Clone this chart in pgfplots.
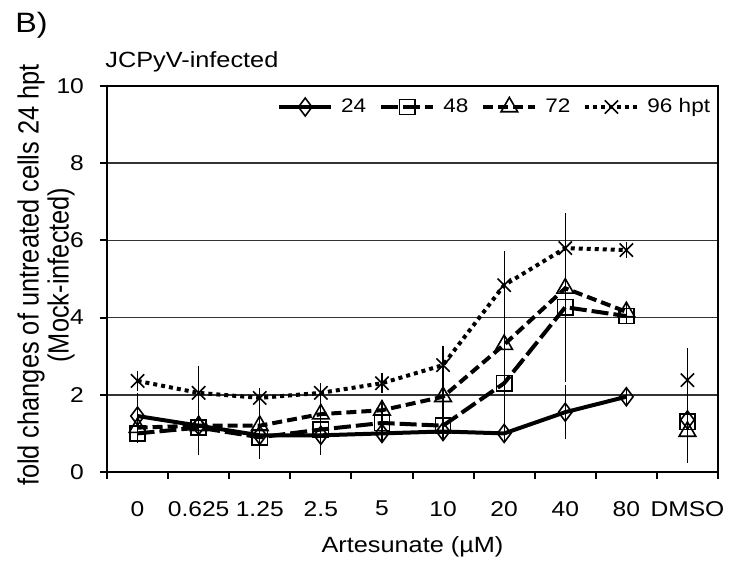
\documentclass[border=0pt]{standalone}
\usepackage{fontspec}
\setmainfont{Liberation Sans}[FakeStretch=1.15]
\usepackage{pgfplots}
\pgfplotsset{compat=1.18}
\pgfplotsset{myerr/.style={/pgfplots/error bars/y dir=both, /pgfplots/error bars/y explicit,
  /pgfplots/error bars/error bar style={line width=0.6pt, solid},
  /pgfplots/error bars/error mark options={line width=0.6pt, mark size=3pt, solid}}}
\begin{document}
\begin{tikzpicture}
\path[use as bounding box] (-53.5pt,-47.5pt) rectangle (312pt,236pt);
\begin{axis}[
  at={(0,0)}, anchor=south west,
  width=305.5pt, height=193pt, scale only axis,
  xmin=-0.5, xmax=9.5, ymin=0, ymax=10,
  xtick={-0.5,0.5,...,9.5}, xticklabels={},
  extra x ticks={0,1,2,3,4,5,6,7,8,9},
  extra x tick labels={0,0.625,1.25,2.5,5,10,20,40,80,DMSO},
  extra x tick style={major tick length=0pt, grid=none, tick label style={yshift=-11pt}},
  ytick={0,2,...,10},
  yticklabel style={xshift=-4.5pt},
  ymajorgrids,
  grid style={line width=0.8pt, black!80},
  tick align=outside, tick pos=left,
  major tick length=3.5pt,
  tick style={line width=1pt, black},
  axis line style={line width=1.2pt},
  tick label style={font=\fontsize{10.7}{12}\selectfont},
  /pgf/number format/assume math mode=true,
  legend columns=4,
  legend style={draw=none, fill=none, at={(axis description cs:0.991,0.9456)}, anchor=east,
    inner sep=0pt, font=\fontsize{9.8}{12}\selectfont,
    /tikz/every odd column/.append style={column sep=3pt},
    /tikz/every even column/.append style={column sep=5.5pt},
    nodes={inner sep=1pt}},
  legend image code/.code={\draw[mark repeat=2,mark phase=2] plot coordinates {(0pt,0pt) (13pt,0pt) (26pt,0pt)};},
  every axis plot/.append style={black, line width=2pt},
]
% 24 hpt
\addplot[myerr, mark=diamond, mark size=4.5pt, mark options={solid, line width=0.8pt}, solid]
 coordinates {(0,1.45) +- (0,0.45) (1,1.2) +- (0,0.1) (2,0.95) +- (0,0.45) (3,0.95) +- (0,0.15)
 (4,1.0) +- (0,0.1) (5,1.05) +- (0,0.1) (6,1.0) +- (0,0.1) (7,1.55) +- (0,0.55) (8,1.95) +- (0,0.05)};
\addlegendentry{24}
\addplot[myerr, forget plot, only marks, mark=diamond, mark size=4.5pt, mark options={solid, line width=0.8pt}]
 coordinates {(9,1.35) +- (0,0.57)};
% 48 hpt
\addplot[myerr, mark=square, mark size=3.8pt, mark options={solid, line width=0.8pt}, dash pattern=on 8.5pt off 2.5pt]
 coordinates {(0,1.0) +- (0,0.1) (1,1.15) +- (0,0.56) (2,0.9) +- (0,0.1) (3,1.1) +- (0,0.5)
 (4,1.27) +- (0,0.15) (5,1.2) +- (0,0.1) (6,2.3) +- (0,1.3) (7,4.27) +- (0,1.77) (8,4.04) +- (0,0.05)};
\addlegendentry{48}
\addplot[myerr, forget plot, only marks, mark=square, mark size=3.8pt, mark options={solid, line width=0.8pt}]
 coordinates {(9,1.3) +- (0,0.22)};
% 72 hpt
\addplot[myerr, mark=triangle, mark size=4.8pt, mark options={solid, line width=0.8pt}, dash pattern=on 5pt off 2.5pt]
 coordinates {(0,1.15) +- (0,0.1) (1,1.2) +- (0,0.2) (2,1.2) +- (0,0.3) (3,1.5) +- (0,0.15)
 (4,1.6) +- (0,0.1) (5,1.95) +- (0,0.35) (6,3.3) +- (0,0.5) (7,4.76) +- (0,0.15) (8,4.15) +- (0,0.05)};
\addlegendentry{72}
\addplot[myerr, forget plot, only marks, mark=triangle, mark size=4.8pt, mark options={solid, line width=0.8pt}]
 coordinates {(9,1.05) +- (0,0.66)};
% 96 hpt
\addplot[myerr, mark=x, mark size=4.7pt, mark options={solid, line width=0.8pt}, dash pattern=on 2pt off 2pt]
 coordinates {(0,2.36) +- (0,0.1) (1,2.05) +- (0,0.55) (2,1.92) +- (0,0.1) (3,2.05) +- (0,0.1)
 (4,2.3) +- (0,0.1) (5,2.77) +- (0,0.35) (6,4.84) +- (0,0.72) (7,5.8) +- (0,0.75) (8,5.75) +- (0,0.05)};
\addlegendentry{96 hpt}
\addplot[myerr, forget plot, only marks, mark=x, mark size=4.7pt, mark options={solid, line width=0.8pt}]
 coordinates {(9,2.38) +- (0,0.67)};
\end{axis}
\node[rotate=90, xscale=0.756, align=center, font=\fontsize{14.6}{15}\selectfont] at (-30.5pt,98.5pt)
 {fold changes of untreated cells 24 hpt\\(Mock-infected)};
\node[anchor=base, font=\fontsize{11}{13}\selectfont] at (152.75pt,-40pt) {Artesunate (µM)};
\node[anchor=base west, inner sep=0pt, font=\fontsize{14}{16}\selectfont] at (-46pt,219.5pt) {B)};
\node[anchor=base west, inner sep=0pt, font=\fontsize{11}{13}\selectfont] at (-1pt,202pt) {JCPyV-infected};
\end{tikzpicture}
\end{document}
